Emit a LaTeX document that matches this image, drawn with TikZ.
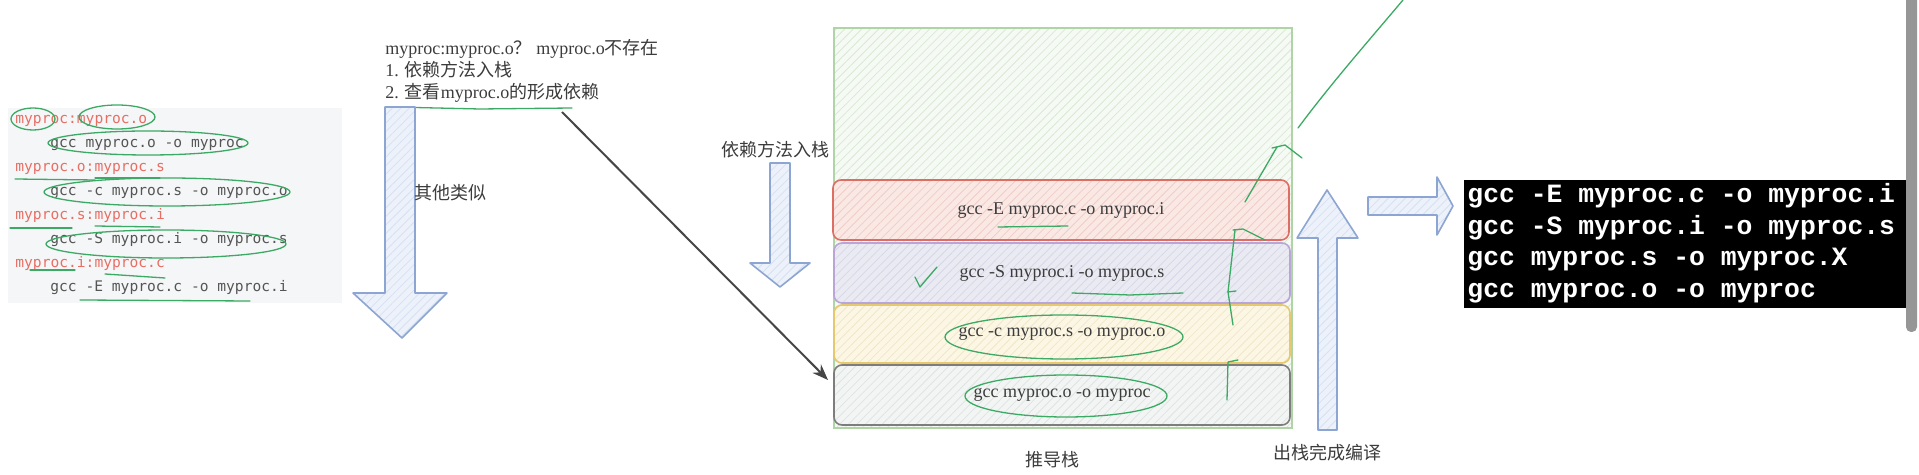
\documentclass[tikz,border=0pt]{standalone}
\usepackage{fontspec}
\setmainfont{Liberation Serif}
\newfontfamily\cjk{Noto Sans CJK SC}
\newfontfamily\codefont{DejaVu Sans Mono}
\newfontfamily\termfont{Liberation Mono}
\usetikzlibrary{patterns.meta,arrows.meta}
\definecolor{codered}{RGB}{232,110,100}
\definecolor{codegray}{RGB}{85,85,85}
\definecolor{panelbg}{RGB}{245,246,247}
\definecolor{textgray}{RGB}{60,60,60}
\definecolor{annot}{RGB}{60,170,100}
\definecolor{arrowblue}{RGB}{140,165,210}
\definecolor{arrowfill}{RGB}{236,241,250}
\definecolor{arrowhatch}{RGB}{214,225,243}
\definecolor{stackborder}{RGB}{175,212,165}
\definecolor{stackfill}{RGB}{246,250,244}
\definecolor{stackhatch}{RGB}{218,232,213}
\definecolor{redb}{RGB}{220,110,100}
\definecolor{redf}{RGB}{250,232,228}
\definecolor{redh}{RGB}{240,205,200}
\definecolor{purb}{RGB}{185,165,215}
\definecolor{purf}{RGB}{234,234,243}
\definecolor{purh}{RGB}{215,215,232}
\definecolor{yelb}{RGB}{230,200,110}
\definecolor{yelf}{RGB}{252,247,228}
\definecolor{yelh}{RGB}{240,230,200}
\definecolor{grayb}{RGB}{125,125,125}
\definecolor{grayf}{RGB}{242,245,244}
\definecolor{grayh}{RGB}{222,228,226}
\definecolor{darrow}{RGB}{70,70,70}
\definecolor{scrollgray}{RGB}{150,150,150}
\begin{document}
\begin{tikzpicture}[x=0.5pt,y=-0.5pt,
  code/.style={font=\codefont\fontsize{7.3}{9}\selectfont, anchor=base west, inner sep=0},
  toptext/.style={font=\fontsize{9}{11}\selectfont, anchor=base west, inner sep=0, text=textgray},
  lbl/.style={font=\cjk\fontsize{9}{11}\selectfont, inner sep=0, text=textgray},
  term/.style={font=\termfont\bfseries\fontsize{13.2}{15}\selectfont, anchor=base west, inner sep=0, text=white},
  scribble/.style={draw=annot, line width=0.65pt, line cap=round, line join=round},
  bluearrow/.style={draw=arrowblue, line width=0.8pt, line join=round,
    preaction={fill=arrowfill},
    pattern={Lines[angle=45,distance=3pt,line width=0.4pt]}, pattern color=arrowhatch},
  stackbox/.style={rounded corners=4pt, line width=0.8pt, minimum width=228pt,
    inner sep=0, font=\fontsize{9}{11}\selectfont, text=textgray},
  hatch/.style={pattern={Lines[angle=45,distance=3pt,line width=0.4pt]}, pattern color=#1},
  darr/.style={draw=darrow, line width=1pt, -{Stealth[length=8pt,width=6pt]}}
]
\useasboundingbox (0,0) rectangle (1919,475);
\fill[white] (0,0) rectangle (1919,475);

% ---- left code panel
\fill[panelbg] (8,108) rectangle (342,303);
\node[code,text=codered]  (l1) at (15,124) {myproc:myproc.o};
\node[code,text=codegray] (l2) at (50,148) {gcc myproc.o -o myproc};
\node[code,text=codered]  (l3) at (15,172) {myproc.o:myproc.s};
\node[code,text=codegray] (l4) at (50,196) {gcc -c myproc.s -o myproc.o};
\node[code,text=codered]  (l5) at (15,220) {myproc.s:myproc.i};
\node[code,text=codegray] (l6) at (50,244) {gcc -S myproc.i -o myproc.s};
\node[code,text=codered]  (l7) at (15,268) {myproc.i:myproc.c};
\node[code,text=codegray] (l8) at (50,292) {gcc -E myproc.c -o myproc.i};

% green annotations on the panel
\draw[scribble] (33,119) ellipse [x radius=22, y radius=11];
\draw[scribble] (117,117) ellipse [x radius=38, y radius=12];
\draw[scribble] (148,143) ellipse [x radius=100, y radius=12];
\draw[scribble] (15,179) -- (95,180);
\draw[scribble] (95,178) -- (160,178);
\draw[scribble] (167,192) ellipse [x radius=123, y radius=14];
\draw[scribble] (10,228) -- (72,228);
\draw[scribble] (95,226) -- (160,227);
\draw[scribble] (166,244) ellipse [x radius=120, y radius=14];
\draw[scribble] (30,270) -- (75,270);
\draw[scribble] (105,274) -- (165,278);
\draw[scribble] (80,300) -- (250,301);

% ---- top text
\node[toptext] (t1) at (385,55) {myproc:myproc.o{\cjk ？}\ myproc.o{\cjk 不存在}};
\node[toptext] (t2) at (385,77) {1. {\cjk 依赖方法入栈}};
\node[toptext] (t3) at (385,99) {2. {\cjk 查看}myproc.o{\cjk 的形成依赖}};
\draw[scribble] (393,107) -- (480,109) -- (572,108);
\coordinate (ustart) at (562,112);

% ---- left big down arrow
\draw[bluearrow] (385,107) -- (415,107) -- (415,293) -- (447,293) -- (402,338) -- (353,293) -- (385,293) -- cycle;
\node[lbl] (other) at (450,193) {其他类似};

% ---- push label and small down arrow
\node[lbl] (push) at (775,150) {依赖方法入栈};
\draw[bluearrow] (770,163) -- (790,163) -- (790,263) -- (810,263) -- (780,287) -- (750,263) -- (770,263) -- cycle;

% ---- stack
\draw[draw=stackborder, line width=0.8pt, preaction={fill=stackfill}, hatch=stackhatch] (834,28) rectangle (1292,428);
\node[stackbox, draw=redb, preaction={fill=redf}, hatch=redh, minimum height=30pt] (boxE) at (1061,210) {gcc -E myproc.c -o myproc.i};
\node[stackbox, draw=purb, preaction={fill=purf}, hatch=purh, minimum height=30pt] (boxS) at (1062,273) {gcc -S myproc.i -o myproc.s};
\node[stackbox, draw=yelb, preaction={fill=yelf}, hatch=yelh, minimum height=29pt] (boxC) at (1062,334) {gcc -c myproc.s -o myproc.o};
\node[stackbox, draw=grayb, preaction={fill=grayf}, hatch=grayh, minimum height=30pt] (boxO) at (1062,395) {gcc myproc.o -o myproc};
\node[lbl] (stk) at (1052,460) {推导栈};

% diagonal arrow
\coordinate (atip) at (828,380);
\draw[darr] (ustart) -- (atip);

% green annotations on the stack
\draw[scribble] (998,227) -- (1068,226);
\draw[scribble] (1072,293) -- (1130,295) -- (1183,293);
\draw[scribble] (1064,337) ellipse [x radius=119, y radius=22];
\draw[scribble] (1066,396) ellipse [x radius=101, y radius=21];
\draw[scribble] (915,277) -- (920,287) -- (937,267);
\draw[scribble] (1227,400) -- (1228,362) -- (1238,360);
\draw[scribble] (1233,325) -- (1228,292) -- (1236,291);
\draw[scribble] (1228,292) -- (1235,230);
\draw[scribble] (1233,230) -- (1243,229) -- (1265,240);
\draw[scribble] (1245,202) -- (1277,147);
\draw[scribble] (1272,148) -- (1285,145) -- (1302,158);
\draw[scribble] (1298,128) .. controls (1330,85) and (1365,45) .. (1403,0);

% ---- up arrow and right arrow
\draw[bluearrow] (1318,430) -- (1337,430) -- (1337,238) -- (1358,238) -- (1327,190) -- (1297,238) -- (1318,238) -- cycle;
\node[lbl] (pop) at (1327,453) {出栈完成编译};
\draw[bluearrow] (1368,197) -- (1437,197) -- (1437,177) -- (1453,206) -- (1437,235) -- (1437,215) -- (1368,215) -- cycle;

% ---- terminal
\fill[black] (1464,180) rectangle (1907,308);
\node[term] (c1) at (1467,203) {gcc -E myproc.c -o myproc.i};
\node[term] (c2) at (1467,235) {gcc -S myproc.i -o myproc.s};
\node[term] (c3) at (1467,266) {gcc myproc.s -o myproc.X};
\node[term] (c4) at (1467,298) {gcc myproc.o -o myproc};
\fill[scrollgray, rounded corners=2.5pt] (1906,-5) rectangle (1917,332);
\end{tikzpicture}
\end{document}
